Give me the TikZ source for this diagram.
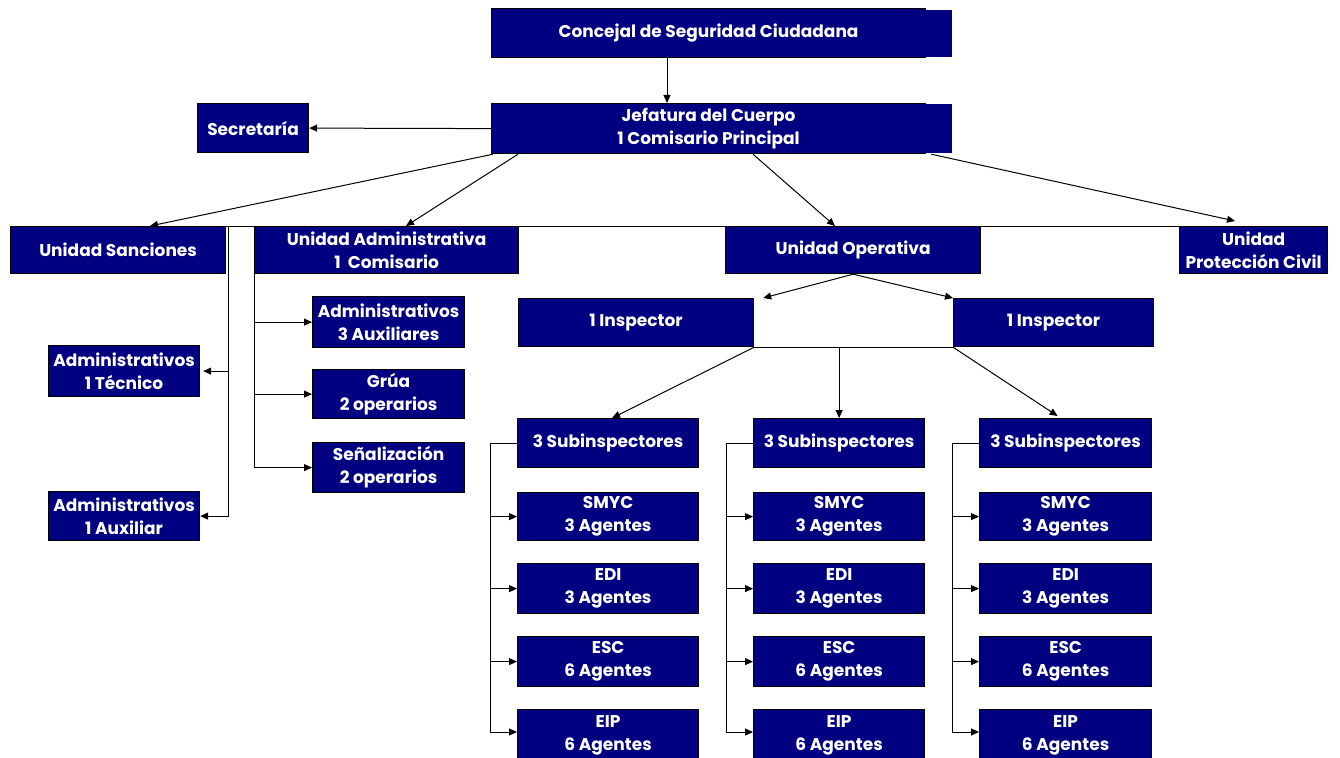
\documentclass[tikz,border=0pt]{standalone}
\usepackage{fontspec}
\setmainfont{Poppins}
\usetikzlibrary{arrows.meta,calc}
\definecolor{navy}{RGB}{0,0,128}
\tikzset{
  box/.style={draw=black, line width=1.2pt, fill=navy, text=white, inner sep=0pt,
    align=center, anchor=north west, font=\fontsize{17}{23}\selectfont\bfseries},
  arr/.style={-{Triangle[length=8pt,width=7pt]}, line width=1pt, black},
  ln/.style={line width=1pt, black}
}
\begin{document}
\begin{tikzpicture}[x=1pt,y=-1pt]
\useasboundingbox (0,0) rectangle (1340,757);
% strips
\fill[navy] (920,10) rectangle (952,57);
\fill[navy] (920,104) rectangle (952,153);
% top
\node[box, minimum width=434pt, minimum height=49pt] (conc) at (491,8) {Concejal de Seguridad Ciudadana};
\node[box, minimum width=434pt, minimum height=50pt] (jef) at (491,103) {Jefatura del Cuerpo\\1 Comisario Principal};
\node[box, minimum width=111pt, minimum height=49pt] (sec) at (197,103) {Secretaría};
% level 2
\node[box, minimum width=215pt, minimum height=47pt] (sanc) at (10,226) {Unidad Sanciones};
\node[box, minimum width=264pt, minimum height=47pt] (adm) at (254,226) {Unidad Administrativa\\1\ \ Comisario};
\node[box, minimum width=255pt, minimum height=47pt] (oper) at (725,226) {Unidad Operativa};
\node[box, minimum width=148pt, minimum height=47pt] (prot) at (1179,226) {Unidad\\Protección Civil};
% sanciones children
\node[box, minimum width=151pt, minimum height=51pt] (tec) at (48,345) {Administrativos\\1 Técnico};
\node[box, minimum width=151pt, minimum height=49pt] (aux1) at (48,491) {Administrativos\\1 Auxiliar};
% administrativa children
\node[box, minimum width=152pt, minimum height=51pt] (aux3) at (312,296) {Administrativos\\3 Auxiliares};
\node[box, minimum width=152pt, minimum height=49pt] (grua) at (312,369) {Grúa\\2 operarios};
\node[box, minimum width=152pt, minimum height=50pt] (senal) at (312,442) {Señalización\\2 operarios};
% inspectors
\node[box, minimum width=235pt, minimum height=48pt] (insp1) at (518,298) {1 Inspector};
\node[box, minimum width=200pt, minimum height=48pt] (insp2) at (953,298) {1 Inspector};
% subinspectors and agents
\node[box, minimum width=181pt, minimum height=49pt] (subA) at (517,418) {3 Subinspectores};
\node[box, minimum width=171pt, minimum height=49pt] (subB) at (753,418) {3 Subinspectores};
\node[box, minimum width=172pt, minimum height=49pt] (subC) at (979,418) {3 Subinspectores};
\foreach \c/\x/\w in {A/517/181,B/753/171,C/979/172}{
  \node[box, minimum width=\w pt, minimum height=48pt] (s\c) at (\x,492) {SMYC\\3 Agentes};
  \node[box, minimum width=\w pt, minimum height=50pt] (e\c) at (\x,563) {EDI\\3 Agentes};
  \node[box, minimum width=\w pt, minimum height=50pt] (c\c) at (\x,636) {ESC\\6 Agentes};
  \node[box, minimum width=\w pt, minimum height=52pt] (p\c) at (\x,709) {EIP\\6 Agentes};
}
% connectors top
\draw[arr] ($(conc.south west)+(176,0)$) -- ($(jef.north west)+(176,0)$);
\draw[arr] (jef.west) -- (sec.east);
\draw[ln] (sanc.north west) -- (prot.north east);
\draw[arr] ($(jef.south west)+(2,0)$) -- ($(sanc.north west)+(140,0)$);
\draw[arr] ($(jef.south west)+(27,0)$) -- ($(adm.north west)+(152,0)$);
\draw[arr] ($(jef.south west)+(262,0)$) -- ($(oper.north west)+(110,0)$);
\draw[arr] ($(jef.south east)+(5,0)$) -- ($(prot.north west)+(56,-5)$);
% sanciones bracket
\coordinate (sv) at ($(sanc.north east)+(2,0)$);
\draw[arr] (sv) |- (aux1.east);
\draw[arr] (sv |- tec.east) -- ($(tec.east)+(3,0)$);
% administrativa bracket
\coordinate (av) at (adm.south west);
\draw[arr] (av) |- (senal.west);
\draw[arr] (av |- aux3.west) -- (aux3.west);
\draw[arr] (av |- grua.west) -- (grua.west);
% operativa
\draw[arr] (oper.south) -- ($(insp1.north east)+(9,0)$);
\draw[arr] (oper.south) -- (insp2.north west);
\draw[ln] (insp1.south east) -- (insp2.south west);
\draw[arr] (insp1.south east) -- ($(subA.north)+(4,0)$);
\draw[arr] (insp1.south east -| subB.north) -- (subB.north);
\draw[arr] (insp2.south west) -- ($(subC.north)+(-8,-2)$);
% agent brackets
\foreach \c in {A,B,C}{
  \coordinate (v\c) at ($(sub\c.west)+(-27,0)$);
  \draw[ln] (sub\c.west) -- (v\c);
  \draw[arr] (v\c) |- ($(p\c.north west)+(0,23)$);
  \draw[arr] (v\c |- s\c.west) -- (s\c.west);
  \draw[arr] (v\c |- e\c.west) -- (e\c.west);
  \draw[arr] (v\c |- c\c.west) -- (c\c.west);
}
\end{tikzpicture}
\end{document}
